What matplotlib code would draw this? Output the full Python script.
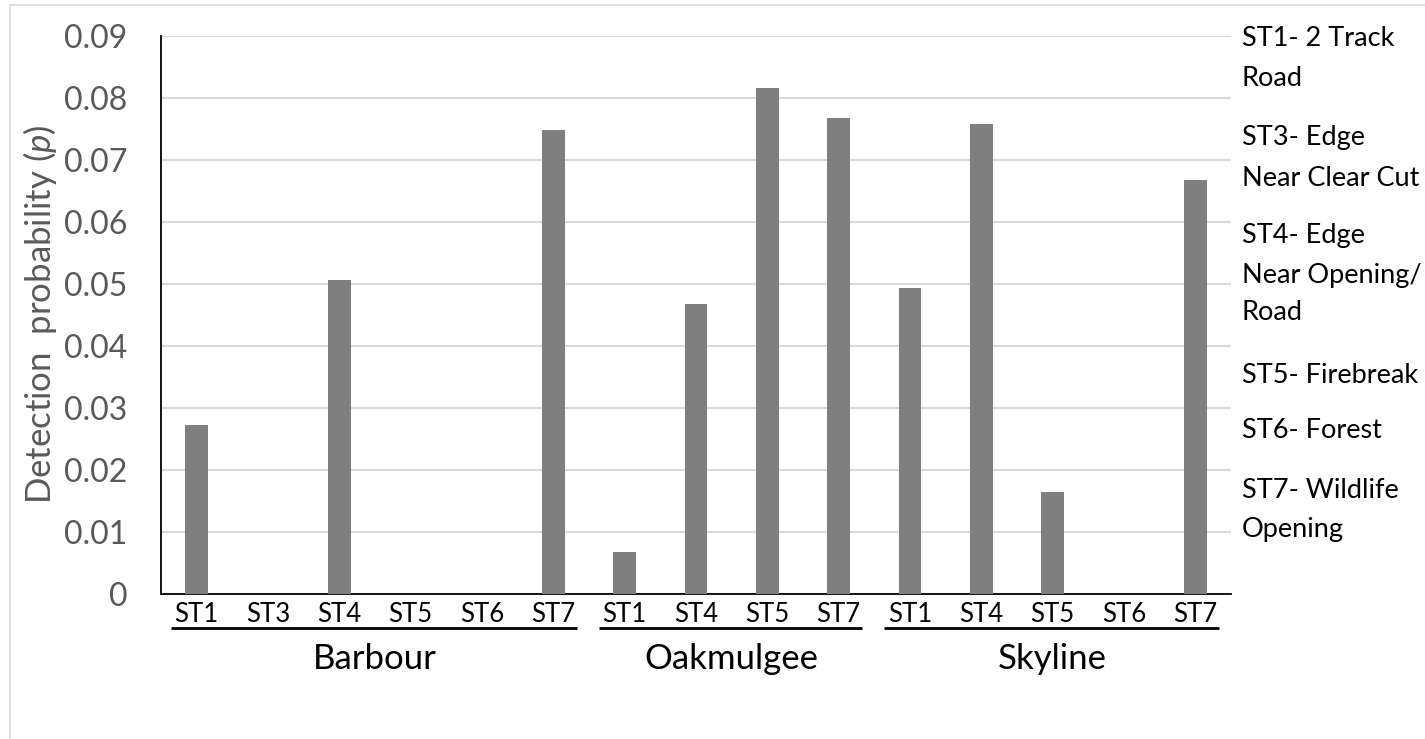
import matplotlib
matplotlib.use("Agg")
import matplotlib.pyplot as plt
from matplotlib.patches import Rectangle
from matplotlib.transforms import blended_transform_factory

# Данные
sites = ["Barbour", "Oakmulgee", "Skyline"]
site_types = [
    ["ST1", "ST3", "ST4", "ST5", "ST6", "ST7"],
    ["ST1", "ST4", "ST5", "ST7"],
    ["ST1", "ST4", "ST5", "ST6", "ST7"],
]
det_prob = [
    [0.0272, 0.0, 0.0506, 0.0, 0.0, 0.0749],
    [0.0068, 0.0467, 0.0816, 0.0767],
    [0.0494, 0.0758, 0.0164, 0.0, 0.0668],
]
yticks = [0, 0.01, 0.02, 0.03, 0.04, 0.05, 0.06, 0.07, 0.08, 0.09]
ytick_labels = ["0", "0.01", "0.02", "0.03", "0.04", "0.05", "0.06", "0.07", "0.08", "0.09"]
legend_lines = [
    "ST1- 2 Track", "Road",
    "ST3- Edge", "Near Clear Cut",
    "ST4- Edge", "Near Opening/", "Road",
    "ST5- Firebreak",
    "ST6- Forest",
    "ST7- Wildlife", "Opening",
]
legend_y_px = [38, 78, 138, 178, 235, 275, 312, 375, 430, 490, 530]

plt.rcParams["font.family"] = ["Lato", "DejaVu Sans"]
plt.rcParams["mathtext.fontset"] = "custom"
plt.rcParams["mathtext.rm"] = "Lato"
plt.rcParams["mathtext.it"] = "Lato:italic"

W, H = 1425, 739
fig = plt.figure(figsize=(W / 100, H / 100), dpi=100)
ax = fig.add_axes([161 / W, 1 - 594 / H, (1231 - 161) / W, (594 - 36) / H])

# рамка области диаграммы (светло-серая)
fig.patches.append(Rectangle((10 / W, -0.1), 1.2, 1 - 5 / H + 0.1, transform=fig.transFigure,
                             fill=False, edgecolor="#d9d9d9", linewidth=1.2))

# плоский список категорий
x_pos = []
values = []
labels = []
groups = []
i = 0
for g, (types, vals) in enumerate(zip(site_types, det_prob)):
    start = i
    for t, v in zip(types, vals):
        x_pos.append(i)
        values.append(v)
        labels.append(t)
        i += 1
    groups.append((start, i - 1))

ax.bar(x_pos, values, width=0.32, color="#7f7f7f", zorder=3)

ax.set_xlim(-0.5, len(x_pos) - 0.5)
ax.set_ylim(0, 0.09)
ax.set_yticks(yticks)
ax.set_yticklabels(ytick_labels, fontsize=23, color="#595959")
ax.tick_params(axis="y", length=0, pad=24)
ax.set_xticks([])
ax.grid(axis="y", color="#d9d9d9", linewidth=1.5, zorder=0)
ax.set_axisbelow(True)
for s in ["top", "right"]:
    ax.spines[s].set_visible(False)
ax.spines["left"].set_linewidth(1.3)
ax.spines["bottom"].set_linewidth(1.3)

trans = blended_transform_factory(ax.transData, fig.transFigure)
for x, lab in zip(x_pos, labels):
    ax.text(x, 1 - 614 / H, lab, transform=trans, ha="center", va="center",
            fontsize=18.5, color="black")

for name, (a, b) in zip(sites, groups):
    ax.plot([a - 0.36, b + 0.33], [1 - 628 / H, 1 - 628 / H], transform=trans,
            color="black", linewidth=2, clip_on=False, solid_capstyle="butt")
    ax.text((a + b) / 2, 1 - 659 / H, name, transform=trans, ha="center", va="center",
            fontsize=25, color="black")

fig.text(40 / W, 1 - 314 / H, r"Detection  probability ($\mathit{p}$)", rotation=90,
         ha="center", va="center", fontsize=25, color="#595959")

for txt, ypx in zip(legend_lines, legend_y_px):
    fig.text(1242 / W, 1 - ypx / H, txt, ha="left", va="center", fontsize=19.5, color="black")

fig.savefig("out.png", dpi=100)
